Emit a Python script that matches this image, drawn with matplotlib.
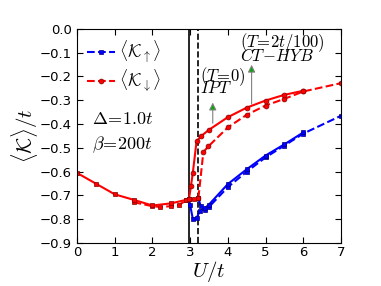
import matplotlib
matplotlib.use("Agg")
import matplotlib.pyplot as plt

plt.rcParams['mathtext.fontset'] = 'cm'
plt.rcParams['font.family'] = 'DejaVu Sans'

# paramagnetic branch (U < Uc)
U_para = [0, 0.5, 1.0, 1.5, 2.0, 2.5, 2.9, 2.97]
K_para = [-0.605, -0.65, -0.695, -0.718, -0.742, -0.733, -0.718, -0.714]
U_para_d = [1.5, 2.0, 2.2, 2.5, 2.7, 2.9, 3.1, 3.22]
K_para_d = [-0.728, -0.745, -0.748, -0.745, -0.74, -0.72, -0.714, -0.71]

# spin down, solid / dashed
U_dn = [2.97, 3.02, 3.07, 3.17, 3.28, 3.5, 4.0, 4.5, 5.0, 5.5, 6.0]
K_dn = [-0.714, -0.662, -0.607, -0.473, -0.452, -0.424, -0.371, -0.331, -0.301, -0.277, -0.26]
U_dn_d = [3.22, 3.35, 3.48, 4.0, 4.5, 5.0, 5.5, 6.0, 7.0]
K_dn_d = [-0.71, -0.518, -0.494, -0.414, -0.361, -0.322, -0.294, -0.263, -0.228]

# spin up, solid / dashed
U_up = [2.97, 3.0, 3.07, 3.17, 3.26, 3.4, 3.5, 4.0, 4.5, 5.0, 5.5, 6.0]
K_up = [-0.714, -0.74, -0.797, -0.795, -0.765, -0.752, -0.738, -0.652, -0.59, -0.532, -0.485, -0.435]
U_up_d = [3.22, 3.28, 3.4, 3.5, 4.0, 4.5, 5.0, 5.5, 6.0, 7.0]
K_up_d = [-0.71, -0.745, -0.76, -0.748, -0.665, -0.6, -0.54, -0.49, -0.44, -0.365]

blue = '#0000ff'
red = '#ff0000'

fig = plt.figure(figsize=(3.81, 2.86), dpi=100)
ax = fig.add_axes([0.202, 0.150, 0.693, 0.749])

ax.axvline(2.97, color='k', lw=1.2)
ax.axvline(3.22, color='k', lw=1.2, ls='--')

ax.plot(U_up_d, K_up_d, '--s', color=blue, ms=3.5, mec='#000080', mew=0.5, lw=1.5,
        label=r'$\langle\mathcal{K}_{\uparrow}\rangle$')
ax.plot(U_up, K_up, '-s', color=blue, ms=3.5, mec='#000080', mew=0.5, lw=1.5)
ax.plot(U_dn_d, K_dn_d, '--o', color=red, ms=3.5, mec='#800000', mew=0.5, lw=1.5,
        label=r'$\langle\mathcal{K}_{\downarrow}\rangle$')
ax.plot(U_dn, K_dn, '-o', color=red, ms=3.5, mec='#800000', mew=0.5, lw=1.5)
ax.plot(U_para_d, K_para_d, '--s', color=red, ms=3.5, mec='#800000', mew=0.5, lw=1.5)
ax.plot(U_para, K_para, '-s', color=red, ms=3.5, mec='#800000', mew=0.5, lw=1.5)

# arrows: gray shaft, green head
ax.annotate('', xy=(3.6, -0.298), xytext=(3.6, -0.408),
            arrowprops=dict(arrowstyle='-|>', fc='#00aa00', ec='gray', lw=0.8, mutation_scale=11))
ax.annotate('', xy=(4.63, -0.139), xytext=(4.63, -0.328),
            arrowprops=dict(arrowstyle='-|>', fc='#00aa00', ec='gray', lw=0.8, mutation_scale=11))

ax.text(3.27, -0.200, r'$(T\!=\!0)$', fontsize=12, va='center', ha='left')
ax.text(3.27, -0.250, r'$IPT$', fontsize=12, va='center', ha='left')
ax.text(4.33, -0.057, r'$(T\!=\!2t/100)$', fontsize=12, va='center', ha='left')
ax.text(4.33, -0.113, r'$CT\!-\!HYB$', fontsize=12, va='center', ha='left')

ax.text(0.4, -0.38, r'$\Delta\!=\!1.0t$', fontsize=13, va='center')
ax.text(0.4, -0.485, r'$\beta\!=\!200t$', fontsize=13, va='center')

ax.set_xlim(0, 7)
ax.set_ylim(-0.9, 0.0)
ax.set_xticks(range(0, 8))
ax.set_yticks([-0.9, -0.8, -0.7, -0.6, -0.5, -0.4, -0.3, -0.2, -0.1, 0.0])
ax.tick_params(direction='in', top=True, right=True, labelsize=9.5, length=4)
ax.tick_params(axis='x', pad=2)
ax.set_xlabel(r'$U/t$', fontsize=15, labelpad=0)
ax.set_ylabel(r'$\langle\mathcal{K}\rangle/t$', fontsize=15, labelpad=0)

ax.legend(loc='upper left', frameon=False, fontsize=12.5, handlelength=1.6,
          borderaxespad=0.2, handletextpad=0.2, labelspacing=0.15)

fig.savefig('out.png', dpi=100)
